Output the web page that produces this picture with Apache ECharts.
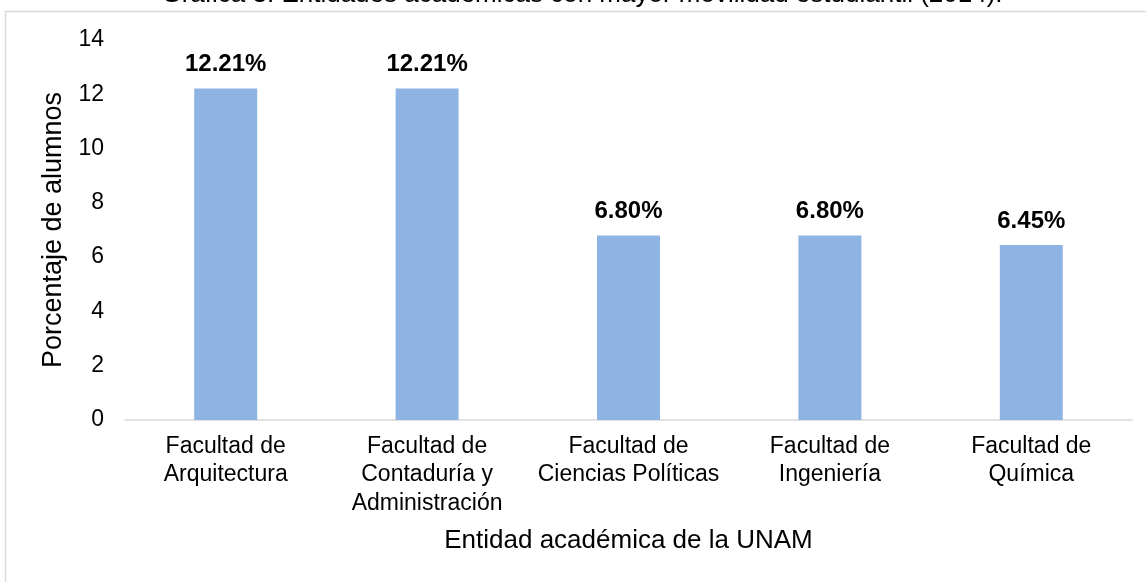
<!DOCTYPE html>
<html>
<head>
<meta charset="utf-8">
<script src="https://cdn.jsdelivr.net/npm/echarts@6/dist/echarts.min.js"></script>
<style>
  html, body { margin: 0; padding: 0; background: #fff; }
  #chart { width: 1146px; height: 582px; }
</style>
</head>
<body>
<div id="chart"></div>
<script>
  var categories = ['Facultad de\nArquitectura', 'Facultad de\nContaduría y\nAdministración', 'Facultad de\nCiencias Políticas', 'Facultad de\nIngeniería', 'Facultad de\nQuímica'];
  var values = [12.21, 12.21, 6.80, 6.80, 6.45];
  var yTicks = [0, 2, 4, 6, 8, 10, 12, 14];

  var font = '"Liberation Sans", Arial, sans-serif';

  var chart = echarts.init(document.getElementById('chart'));
  chart.setOption({
    animation: false,
    textStyle: { fontFamily: font },
    graphic: [
      {
        type: 'rect', silent: true,
        shape: { x: 5.5, y: 11.5, width: 1300, height: 700 },
        style: { fill: 'none', stroke: '#d9d9d9', lineWidth: 1.5 }
      },
      {
        // title sits mostly above the visible area, as in the source
        type: 'text', silent: true, x: 582, y: -5,
        style: {
          text: 'Gráfica 3. Entidades académicas con mayor movilidad estudiantil (2014).',
          font: '26px ' + font, fill: '#000',
          align: 'center', verticalAlign: 'middle'
        }
      }
    ],
    grid: { left: 125, right: 14, top: 40, bottom: 162 },
    xAxis: {
      type: 'category',
      data: categories,
      name: 'Entidad académica de la UNAM',
      nameLocation: 'middle',
      nameGap: 108,
      nameTextStyle: { fontSize: 26, color: '#000', fontFamily: font },
      axisLine: { lineStyle: { color: '#d9d9d9', width: 1.5 } },
      axisTick: { show: false },
      axisLabel: { fontSize: 23, color: '#000', lineHeight: 28.5, margin: 12, interval: 0, fontFamily: font }
    },
    yAxis: {
      type: 'value',
      min: yTicks[0],
      max: yTicks[yTicks.length - 1],
      interval: 2,
      name: 'Porcentaje de alumnos',
      nameLocation: 'middle',
      nameGap: 56,
      nameTextStyle: { fontSize: 27, color: '#000', fontFamily: font },
      axisLine: { show: false },
      axisTick: { show: false },
      splitLine: { show: false },
      axisLabel: { fontSize: 23, color: '#000', margin: 21, fontFamily: font }
    },
    series: [{
      type: 'bar',
      data: values,
      barWidth: 63,
      itemStyle: { color: '#8eb4e3' },
      label: {
        show: true,
        position: 'top',
        distance: 12,
        fontSize: 24,
        fontWeight: 'bold',
        color: '#000',
        fontFamily: font,
        formatter: function (p) { return p.value.toFixed(2) + '%'; }
      }
    }]
  });
</script>
</body>
</html>
